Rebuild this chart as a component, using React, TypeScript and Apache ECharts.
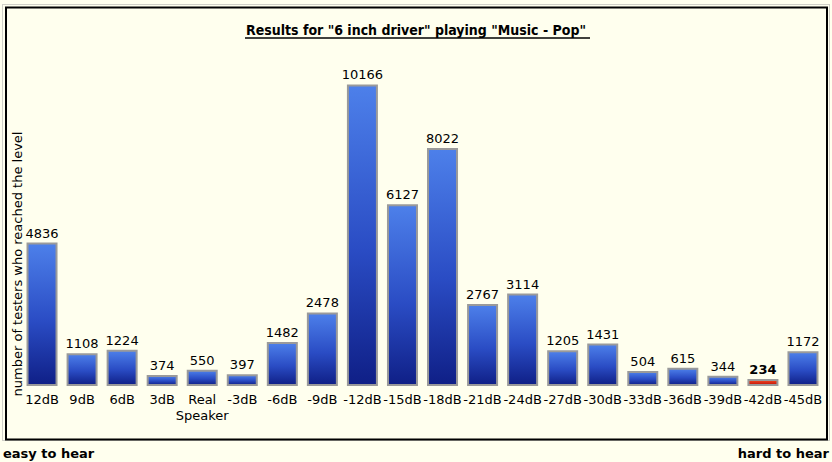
import React, { useEffect, useRef } from "react";
import * as echarts from "echarts";

const categories = ["12dB", "9dB", "6dB", "3dB", "Real\nSpeaker", "-3dB", "-6dB", "-9dB", "-12dB", "-15dB", "-18dB", "-21dB", "-24dB", "-27dB", "-30dB", "-33dB", "-36dB", "-39dB", "-42dB", "-45dB"];
const testers = [4836, 1108, 1224, 374, 550, 397, 1482, 2478, 10166, 6127, 8022, 2767, 3114, 1205, 1431, 504, 615, 344, 234, 1172];
const highlighted = "-42dB";
const titleText = 'Results for "6 inch driver" playing "Music - Pop"';
const yAxisName = "number of testers who reached the level";
const leftNote = "easy to hear";
const rightNote = "hard to hear";

const FONT = "'DejaVu Sans', Verdana, sans-serif";

export default function App() {
  const ref = useRef<HTMLDivElement>(null);
  useEffect(() => {
    if (!ref.current) return;
    const chart = echarts.init(ref.current, null, { renderer: "svg" });
    const blue = new echarts.graphic.LinearGradient(0, 0, 0, 1, [
      { offset: 0, color: "#4d80ea" },
      { offset: 0.55, color: "#2a4cc4" },
      { offset: 1, color: "#0f1f86" },
    ]);
    const red = new echarts.graphic.LinearGradient(0, 0, 0, 1, [
      { offset: 0, color: "#f24a24" },
      { offset: 1, color: "#c01208" },
    ]);
    chart.setOption({
      animation: false,
      backgroundColor: "#FFFFEE",
      graphic: [
        { type: "rect", shape: { x: 2.5, y: 4.5, width: 827, height: 436 }, style: { fill: "none", stroke: "#a0a0a0", lineWidth: 1, lineDash: [1, 1] }, z: 0 },
        { type: "rect", shape: { x: 6, y: 7.5, width: 821, height: 432 }, style: { fill: "none", stroke: "#000", lineWidth: 2 }, z: 0 },
        { type: "text", x: 416, y: 30, style: { text: titleText, align: "center", verticalAlign: "middle", font: `bold 14px 'DejaVu Sans Condensed', 'DejaVu Sans', sans-serif`, fill: "#000" } },
        { type: "line", shape: { x1: 245, y1: 38, x2: 590, y2: 38 }, style: { stroke: "#000", lineWidth: 1.5 } },
        { type: "text", x: 17, y: 264, rotation: Math.PI / 2, style: { text: yAxisName, align: "center", verticalAlign: "middle", font: `13px ${FONT}`, fill: "#000" } },
        { type: "text", x: 3, y: 447, style: { text: leftNote, font: `bold 13px ${FONT}`, fill: "#000" } },
        { type: "text", right: 3, top: 447, style: { text: rightNote, font: `bold 13px ${FONT}`, fill: "#000" } },
      ],
      grid: { left: 22, right: 9, top: 30, bottom: 76, containLabel: false },
      xAxis: {
        type: "category",
        data: categories,
        axisLine: { show: false },
        axisTick: { show: false },
        axisLabel: { interval: 0, color: "#000", fontFamily: FONT, fontSize: 13, margin: 5, lineHeight: 16 },
      },
      yAxis: {
        type: "value",
        min: 0,
        max: 12000,
        axisLine: { show: false },
        axisTick: { show: false },
        axisLabel: { show: false },
        splitLine: { show: false },
      },
      series: [
        {
          type: "bar",
          barWidth: 31,
          data: testers.map((v, i) => {
            const hi = categories[i] === highlighted;
            return {
              value: v,
              itemStyle: { color: hi ? red : blue, borderColor: "#9a9a9a", borderWidth: 2 },
              label: hi ? { fontWeight: "bold" } : undefined,
            };
          }),
          label: { show: true, position: "top", distance: 3, color: "#000", fontFamily: FONT, fontSize: 13 },
        },
      ],
    });
    return () => chart.dispose();
  }, []);
  return <div ref={ref} style={{ position: "fixed", left: 0, top: 0, width: 832, height: 462 }} />;
}
